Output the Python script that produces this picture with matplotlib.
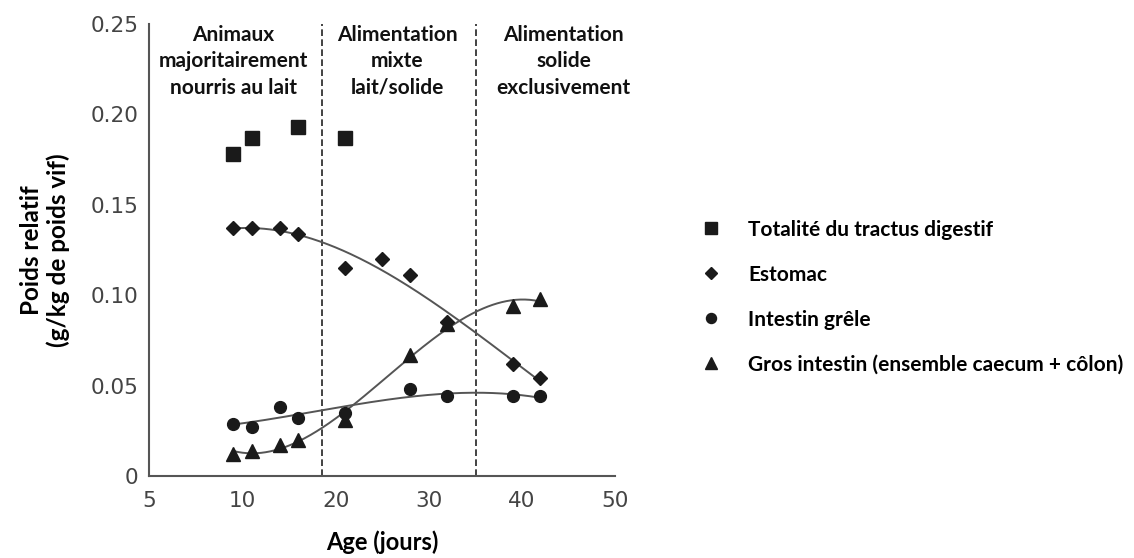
import numpy as np
import matplotlib
matplotlib.use('Agg')
from matplotlib import pyplot as plt

# donnees
age_total = [9, 11, 16, 21]
totalite = [0.178, 0.187, 0.193, 0.187]

age_estomac = [9, 11, 14, 16, 21, 25, 28, 32, 39, 42]
estomac = [0.137, 0.137, 0.137, 0.134, 0.115, 0.120, 0.111, 0.085, 0.062, 0.054]

age_grele = [9, 11, 14, 16, 21, 28, 32, 39, 42]
grele = [0.029, 0.027, 0.038, 0.032, 0.035, 0.048, 0.044, 0.044, 0.044]

age_gros = [9, 11, 14, 16, 21, 28, 32, 39, 42]
gros = [0.012, 0.014, 0.017, 0.020, 0.031, 0.067, 0.084, 0.094, 0.098]

x_ticks = [0, 10, 20, 30, 40, 50]
x_tick_labels = ['5', '10', '20', '30', '40', '50']
y_ticks = [0, 0.05, 0.10, 0.15, 0.20, 0.25]
y_tick_labels = ['0', '0.05', '0.10', '0.15', '0.20', '0.25']

limites = [18.5, 35.1]  # changements d'alimentation
periodes = ['Animaux\nmajoritairement\nnourris au lait',
            'Alimentation\nmixte\nlait/solide',
            'Alimentation\nsolide\nexclusivement']
periodes_x = [9.0, 26.6, 44.5]

txt_font = ['Lato', 'DejaVu Sans']
num_font = ['DejaVu Sans']

fig = plt.figure(figsize=(11.34, 5.58), dpi=100)
ax = fig.add_axes([0.1318, 0.147, 0.4105, 0.81])

# courbes de tendance (ajustement polynomial)
for xs, ys in [(age_estomac, estomac), (age_grele, grele), (age_gros, gros)]:
    coef = np.polyfit(xs, ys, 3)
    xx = np.linspace(min(xs), max(xs), 200)
    ax.plot(xx, np.polyval(coef, xx), color='#555555', lw=1.4, zorder=2)

ax.plot(age_total, totalite, 's', color='#1a1a1a', ms=10, ls='none',
        label='Totalité du tractus digestif', zorder=3)
ax.plot(age_estomac, estomac, 'D', color='#1a1a1a', ms=7, ls='none',
        label='Estomac', zorder=3)
ax.plot(age_grele, grele, 'o', color='#1a1a1a', ms=8.5, ls='none',
        label='Intestin grêle', zorder=3)
ax.plot(age_gros, gros, '^', color='#1a1a1a', ms=10, ls='none',
        label='Gros intestin (ensemble caecum + côlon)', zorder=3)

for xl in limites:
    ax.axvline(xl, color='#222222', lw=1.2, ls=(0, (4, 2)), zorder=1)

for px, txt in zip(periodes_x, periodes):
    ax.text(px, 0.2497, txt, ha='center', va='top', fontsize=15,
            fontweight='bold', family=txt_font, linespacing=1.42, color='#111111')

ax.set_xlim(0, 50)
ax.set_ylim(0, 0.25)
ax.set_xticks(x_ticks)
ax.set_xticklabels(x_tick_labels, family=num_font, fontsize=15.5, color='#444444')
ax.set_yticks(y_ticks)
ax.set_yticklabels(y_tick_labels, family=num_font, fontsize=15.5, color='#444444')
ax.tick_params(axis='both', length=0)
ax.tick_params(axis='x', pad=11)
ax.tick_params(axis='y', pad=8)
for s in ['top', 'right']:
    ax.spines[s].set_visible(False)
for s in ['left', 'bottom']:
    ax.spines[s].set_color('#555555')
    ax.spines[s].set_linewidth(1.5)

ax.set_xlabel('Age (jours)', fontsize=17, fontweight='bold', family=txt_font, labelpad=14)
ax.set_ylabel('Poids relatif\n(g/kg de poids vif)', fontsize=17.5, fontweight='bold',
              family=txt_font, labelpad=15, linespacing=1.15)

leg = ax.legend(loc='upper left', bbox_to_anchor=(0.601, 0.64), bbox_transform=fig.transFigure,
                frameon=False, handlelength=1.0, handletextpad=1.3, labelspacing=1.2,
                markerscale=0.85, prop={'family': txt_font, 'weight': 'bold', 'size': 15})

fig.savefig('out.png', dpi=100)
